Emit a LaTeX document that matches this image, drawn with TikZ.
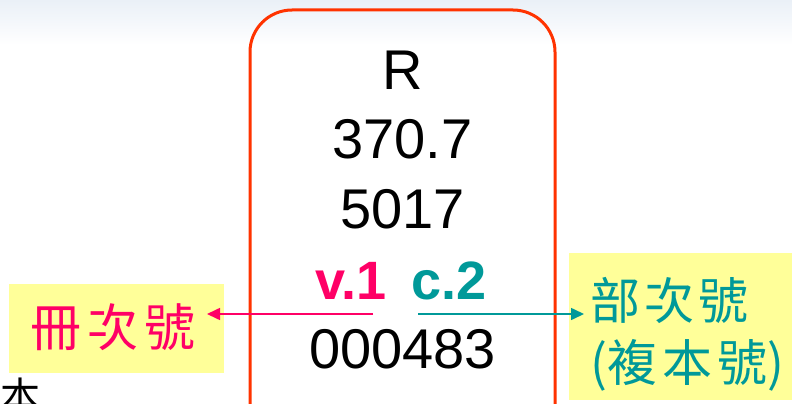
\documentclass[tikz,border=0pt]{standalone}
\usepackage{fontspec}
\setmainfont{Liberation Sans}
\newfontfamily\cjk{Noto Sans CJK TC}
\usetikzlibrary{arrows.meta}
\definecolor{boxred}{HTML}{FF3300}
\definecolor{vpink}{HTML}{FF0066}
\definecolor{cteal}{HTML}{009999}
\definecolor{noteyellow}{HTML}{FFFF99}
\definecolor{topblue}{HTML}{EAF0F7}
\tikzset{
  numtext/.style={font=\fontsize{56}{60}\selectfont, text=black, inner sep=0pt, anchor=base},
  labelbox/.style={fill=noteyellow, draw=none},
  cjktext/.style={font=\cjk\fontsize{51}{66}\selectfont, inner sep=0pt},
  tiparrow/.style={-{Triangle[length=13pt,width=12pt]}, line width=1.6pt}
}
\begin{document}
\begin{tikzpicture}[x=1pt,y=-1pt]
\useasboundingbox (0,0) rectangle (792,404);
\clip (0,0) rectangle (792,404);
\shade[top color=topblue, bottom color=white] (0,0) rectangle (792,45);
% yellow label boxes
\fill[labelbox] (9,284) rectangle (224,373);
\fill[labelbox] (569,253) rectangle (800,400);
% red rounded card
\draw[boxred, line width=3pt, rounded corners=42pt] (250,440) -- (250,10) -- (555,10) -- (555,440);
% card texts
\node[numtext] (r) at (402.5,89) {R};
\node[numtext] (cls) at (402.5,158) {370.7};
\node[numtext] (cut) at (402.5,228) {5017};
\node[numtext, font=\bfseries\fontsize{54}{60}\selectfont, text=vpink, anchor=base east] (vol) at (387,299) {v.1};
\node[numtext, font=\bfseries\fontsize{54}{60}\selectfont, text=cteal, anchor=base west] (cpy) at (411,299) {c.2};
\node[numtext] (acc) at (402.5,368) {000483};
% side labels
\node[cjktext, text=vpink, anchor=west] (volnote) at (30,327) {冊\hspace{6pt}次\hspace{6pt}號};
\node[cjktext, text=cteal, anchor=west, font=\cjk\fontsize{50}{60}\selectfont] (cpynote) at (590,300) {部\hspace{4pt}次\hspace{4pt}號};
\node[cjktext, text=cteal, anchor=west, font=\cjk\fontsize{50}{60}\selectfont] (cpynote2) at (590,365) {(複\hspace{5pt}本\hspace{5pt}號)};
% arrows
\coordinate (vstart) at (373,314);
\coordinate (vend) at (207,314);
\coordinate (cstart) at (418,314);
\coordinate (cend) at (584,314);
\draw[tiparrow, vpink] (vstart) -- (vend);
\draw[tiparrow, cteal] (cstart) -- (cend);
% partial character at bottom
\node[cjktext, text=black, font=\cjk\fontsize{40}{40}\selectfont] (ben) at (21,396) {本};
\end{tikzpicture}
\end{document}
